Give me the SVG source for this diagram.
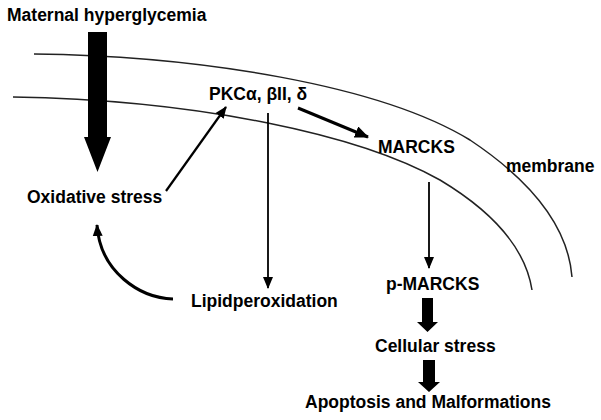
<svg xmlns="http://www.w3.org/2000/svg" width="601" height="420" viewBox="0 0 601 420">
<style>
text{font-family:"Liberation Sans",Arial,sans-serif;font-weight:bold;font-size:17.5px;fill:#000}
.mem{fill:none;stroke:#222;stroke-width:1.5}
.ln{fill:none;stroke:#000}
.blk{fill:#000}
</style>
<defs>
<marker id="ah" markerUnits="userSpaceOnUse" markerWidth="12" markerHeight="12" refX="11" refY="5" orient="auto" viewBox="0 0 12 10">
<path d="M0,0 L12,5 L0,10 z" fill="#000"/>
</marker>
<marker id="ahL" markerUnits="userSpaceOnUse" markerWidth="14" markerHeight="12" refX="13" refY="6" orient="auto" viewBox="0 0 14 12">
<path d="M0,0 L14,6 L0,12 z" fill="#000"/>
</marker>
</defs>
<rect width="601" height="420" fill="#fff"/>
<g id="membrane-lines">
<path class="mem" d="M34,54 C200,56 380,85 470,140 C530,180 568,225 572,277"/>
<path class="mem" d="M13,97 C200,100 360,135 440,180 C490,210 525,245 532,290"/>
</g>
<g id="connectors">
<polygon class="blk" points="88,32 107,32 107,137 111,137 97.5,172 84,137 88,137"/>
<line class="ln" stroke-width="2.2" x1="166" y1="191" x2="226" y2="107" marker-end="url(#ah)"/>
<line class="ln" stroke-width="1.8" x1="268" y1="113" x2="268" y2="288" marker-end="url(#ah)"/>
<line class="ln" stroke-width="3" x1="298" y1="108" x2="368" y2="137" marker-end="url(#ahL)"/>
<line class="ln" stroke-width="1.8" x1="429" y1="182" x2="429" y2="268" marker-end="url(#ah)"/>
<path class="ln" stroke-width="3" d="M173,299 C140,298 100,272 97,225" marker-end="url(#ah)"/>
<polygon class="blk" points="422,298 433,298 433,322 438,322 427.5,332 417,322 422,322"/>
<polygon class="blk" points="423,360 435,360 435,382 440,382 429,392 418,382 423,382"/>
</g>
<g id="maternal-hyperglycemia"><text x="7" y="21" font-size="18">Maternal hyperglycemia</text></g>
<g id="pkc"><text x="209" y="100">PKCα, βII, δ</text></g>
<g id="marcks"><text x="378" y="153">MARCKS</text></g>
<g id="membrane"><text x="506" y="172">membrane</text></g>
<g id="oxidative-stress"><text x="27" y="203">Oxidative stress</text></g>
<g id="lipidperoxidation"><text x="191" y="307">Lipidperoxidation</text></g>
<g id="p-marcks"><text x="386" y="290">p-MARCKS</text></g>
<g id="cellular-stress"><text x="375" y="352">Cellular stress</text></g>
<g id="apoptosis"><text x="305" y="408">Apoptosis and Malformations</text></g>
</svg>
